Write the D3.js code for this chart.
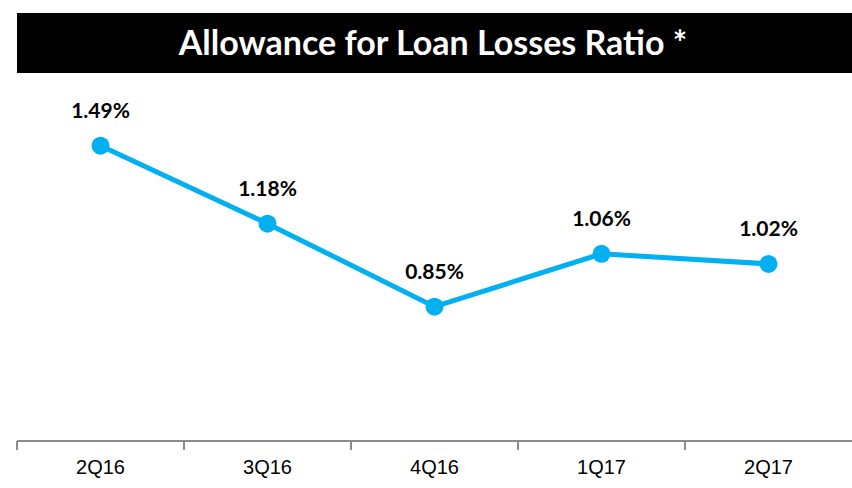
<!DOCTYPE html>
<html>
<head>
<meta charset="utf-8">
<script src="https://cdn.jsdelivr.net/npm/d3@7"></script>
<style>
    body { margin: 0; background: #fff; }
    svg { display: block; font-family: Lato, "Open Sans", sans-serif; }
    .axis path, .axis line { stroke: #8c8c8c; stroke-width: 2; }
    .axis text { font-size: 20px; fill: #000; }
</style>
</head>
<body>
<svg></svg>
<script>
const quarters = ["2Q16", "3Q16", "4Q16", "1Q17", "2Q17"];
const ratio = [1.49, 1.18, 0.85, 1.06, 1.02];
const title = "Allowance for Loan Losses Ratio *";

const W = 852, H = 488;
const svg = d3.select("svg").attr("width", W).attr("height", H);

// title bar
svg.append("rect")
    .attr("x", 17).attr("y", 13)
    .attr("width", W - 17).attr("height", 60)
    .attr("fill", "#000");
svg.append("text")
    .attr("x", 433).attr("y", 55)
    .attr("text-anchor", "middle")
    .attr("fill", "#fff")
    .style("font-size", "34px")
    .style("font-weight", "bold")
    .text(title);

// scales
const x = d3.scaleBand().domain(quarters).range([17, W]);
const y = d3.scaleLinear().domain([0.3, 1.6]).range([445, 118]);
const axisY = 441;

// x axis
const xAxis = d3.axisBottom(x).tickSize(0).tickPadding(20);
const gx = svg.append("g")
    .attr("class", "axis")
    .attr("transform", `translate(0, ${axisY})`)
    .call(xAxis);
gx.select(".domain").attr("d", `M17,0H${W}`);
// category separators
gx.selectAll(".sep")
    .data(quarters)
    .enter().append("line")
    .attr("class", "sep")
    .attr("x1", d => x(d)).attr("x2", d => x(d))
    .attr("y1", 0).attr("y2", 9);
gx.selectAll(".tick text").attr("dy", "0.32em").attr("y", 27);

// line
const cx = d => x(d) + x.bandwidth() / 2;
const line = d3.line()
    .x((d, i) => cx(quarters[i]))
    .y(d => y(d));
svg.append("path")
    .datum(ratio)
    .attr("d", line)
    .attr("fill", "none")
    .attr("stroke", "#00b0f0")
    .attr("stroke-width", 5);

svg.selectAll(".dot")
    .data(ratio)
    .enter().append("circle")
    .attr("class", "dot")
    .attr("cx", (d, i) => cx(quarters[i]))
    .attr("cy", d => y(d))
    .attr("r", 9)
    .attr("fill", "#00b0f0");

// data labels
svg.selectAll(".lbl")
    .data(ratio)
    .enter().append("text")
    .attr("class", "lbl")
    .attr("x", (d, i) => cx(quarters[i]))
    .attr("y", d => y(d) - 28)
    .attr("text-anchor", "middle")
    .style("font-size", "21px")
    .style("font-weight", "bold")
    .text(d => d.toFixed(2) + "%");
</script>
</body>
</html>
